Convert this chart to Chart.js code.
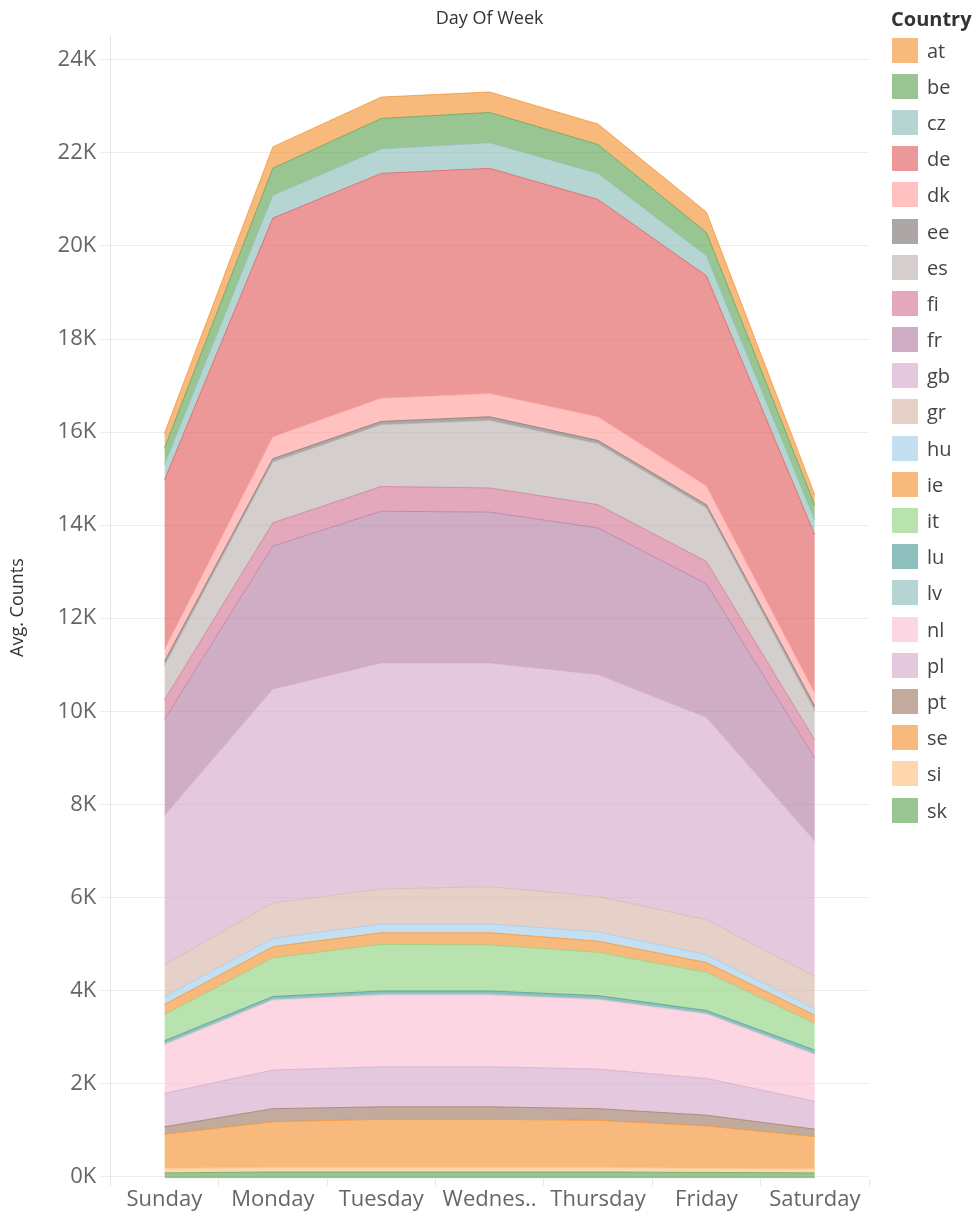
<!DOCTYPE html>
<html>
<head>
<meta charset="utf-8">
<title>Avg. Counts by Day Of Week</title>
<script src="https://cdn.jsdelivr.net/npm/chart.js@4.4.1/dist/chart.umd.min.js"></script>
<style>
  html, body { margin: 0; padding: 0; background: #fff; }
  #wrap { position: relative; width: 977px; height: 1218px; font-family: 'Open Sans', sans-serif; }
  #chart { position: absolute; left: 0; top: 0; }
  #legend { position: absolute; left: 892px; top: 5px; color: #333; }
  #legend .title { font-weight: bold; font-size: 20px; height: 27px; line-height: 27px; margin-left: -1px; }
  #legend .item { display: flex; align-items: center; height: 36.2px; font-size: 20px; color: #444; }
  #legend .swatch { width: 26px; height: 25px; margin-right: 9px; }
</style>
</head>
<body>
<div id="wrap">
  <canvas id="chart" width="977" height="1218"></canvas>
  <div id="legend"></div>
</div>
<script>
// Day Of Week categories (x axis)
const days = ['Sunday', 'Monday', 'Tuesday', 'Wednes..', 'Thursday', 'Friday', 'Saturday'];

// Avg. Counts per country, one value per day
const at = [320, 460, 460, 440, 440, 440, 220];
const be = [350, 580, 650, 650, 620, 500, 320];
const cz = [330, 490, 530, 550, 560, 430, 320];
const de = [3640, 4700, 4830, 4840, 4670, 4520, 3400];
const dk = [260, 470, 500, 500, 510, 400, 280];
const ee = [90, 70, 70, 80, 70, 70, 100];
const es = [740, 1310, 1330, 1450, 1310, 1150, 630];
const fi = [420, 500, 530, 520, 500, 480, 390];
const fr = [2060, 3070, 3260, 3240, 3150, 2870, 1780];
const gb = [3210, 4600, 4860, 4810, 4770, 4350, 2910];
const gr = [680, 760, 750, 800, 760, 750, 690];
const hu = [170, 180, 190, 190, 200, 170, 140];
const ie = [220, 240, 250, 260, 240, 210, 180];
const it = [560, 830, 1000, 990, 930, 820, 570];
const lu = [60, 50, 60, 60, 60, 50, 70];
const lv = [30, 30, 30, 30, 30, 30, 30];
const nl = [1040, 1500, 1540, 1540, 1490, 1380, 1000];
const pl = [720, 830, 860, 860, 850, 790, 600];
const pt = [160, 280, 270, 270, 250, 230, 160];
const se = [730, 980, 1030, 1030, 1010, 910, 690];
const si = [100, 100, 100, 100, 100, 90, 90];
const sk = [80, 100, 100, 100, 100, 90, 80];

// legend order (top of stack first)
const countries = ['at', 'be', 'cz', 'de', 'dk', 'ee', 'es', 'fi', 'fr', 'gb', 'gr',
                   'hu', 'ie', 'it', 'lu', 'lv', 'nl', 'pl', 'pt', 'se', 'si', 'sk'];
const series = [at, be, cz, de, dk, ee, es, fi, fr, gb, gr,
                hu, ie, it, lu, lv, nl, pl, pt, se, si, sk];

// y axis ticks (K)
const yTicks = [0, 2000, 4000, 6000, 8000, 10000, 12000, 14000, 16000, 18000, 20000, 22000, 24000];

// Tableau 20 base colours
const baseColors = [
  '#F28E2B', '#59A14F', '#86BCB6', '#E15759', '#FF9D9A', '#79706E', '#BAB0AC', '#D37295',
  '#B07AA1', '#D4A6C8', '#D7B5A6', '#A0CBE8', '#F28E2B', '#8CD17D', '#499894', '#86BCB6',
  '#FABFD2', '#D4A6C8', '#9D7660', '#F28E2B', '#FFBE7D', '#59A14F'
];

const rgba = (hex, a) => {
  const n = parseInt(hex.slice(1), 16);
  return `rgba(${(n >> 16) & 255}, ${(n >> 8) & 255}, ${n & 255}, ${a})`;
};

Chart.defaults.font.family = "'Open Sans', sans-serif";

// bottom of the stack is the first dataset, so build in reverse
const datasets = countries.map((c, i) => ({
  label: c,
  data: series[i],
  backgroundColor: rgba(baseColors[i], 0.62),
  borderColor: rgba(baseColors[i], 0.7),
  borderWidth: 1,
  pointRadius: 0,
  pointHoverRadius: 0,
  tension: 0,
  fill: 'stack'
})).reverse();

new Chart(document.getElementById('chart'), {
  type: 'line',
  data: { labels: days, datasets },
  options: {
    responsive: false,
    animation: false,
    layout: { padding: { right: 108, bottom: 4 } },
    plugins: {
      legend: { display: false },
      tooltip: { enabled: false },
      title: {
        display: true,
        text: 'Day Of Week',
        fullSize: false,
        color: '#333',
        font: { size: 18, weight: 'normal' },
        padding: { top: 8, bottom: 7 }
      }
    },
    scales: {
      x: {
        offset: true,
        grid: { offset: true, drawOnChartArea: false, tickLength: 7, color: '#e4e4e4' },
        border: { display: false },
        ticks: { color: '#666', font: { size: 22 }, maxRotation: 0, autoSkip: false, padding: 1 }
      },
      y: {
        stacked: true,
        min: -43,
        max: 24500,
        afterBuildTicks: axis => { axis.ticks = yTicks.map(v => ({ value: v })); },
        grid: { color: '#ededed', tickLength: 10 },
        border: { color: '#e4e4e4' },
        ticks: {
          color: '#666',
          font: { size: 22 },
          padding: 4,
          callback: v => (v / 1000) + 'K'
        },
        title: {
          display: true,
          text: 'Avg. Counts',
          color: '#333',
          font: { size: 18 },
          padding: { top: 7, bottom: 25 }
        }
      }
    }
  }
});

// Country legend
const legendEl = document.getElementById('legend');
legendEl.innerHTML = '<div class="title">Country</div>' + countries.map((c, i) =>
  `<div class="item"><span class="swatch" style="background:${rgba(baseColors[i], 0.62)}"></span>${c}</div>`
).join('');
</script>
</body>
</html>
